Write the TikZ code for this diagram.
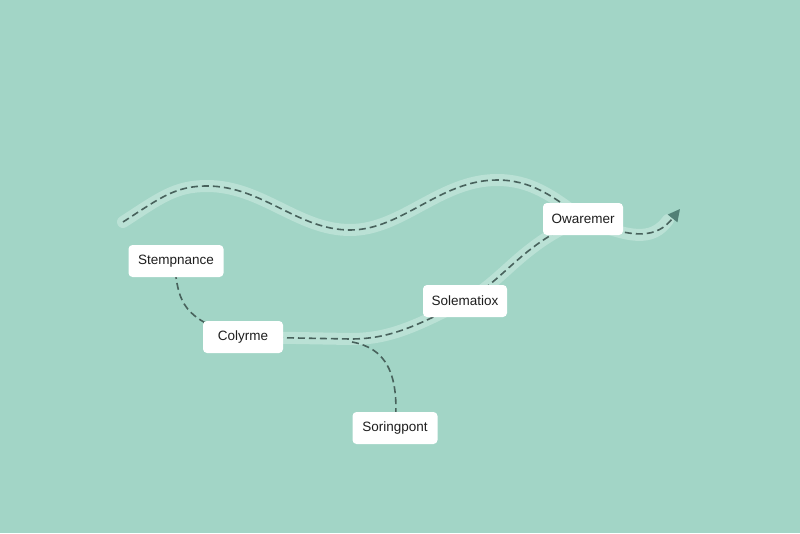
\documentclass[tikz,border=0pt]{standalone}
\usepackage{fontspec}
\setmainfont{Liberation Sans}
\usetikzlibrary{arrows.meta}
\definecolor{bgc}{RGB}{162,213,198}
\definecolor{bandc}{RGB}{186,225,213}
\definecolor{dashc}{RGB}{72,98,92}
\definecolor{arrc}{RGB}{82,128,118}
\definecolor{txtc}{RGB}{30,30,30}
\pgfdeclarelayer{bg}
\pgfdeclarelayer{back}
\pgfsetlayers{back,bg,main}
\begin{document}
\begin{tikzpicture}[x=1pt,y=-1pt,
  box/.style={draw=none,fill=white,rounded corners=4pt,minimum height=32pt,inner xsep=8pt,font=\fontsize{13.5}{15}\selectfont,text=txtc},
  band/.style={line width=12pt,draw=bandc,line cap=round},
  dline/.style={line width=1.6pt,draw=dashc,dash pattern=on 7pt off 4pt}]
\begin{pgfonlayer}{back}
\fill[bgc] (0,0) rectangle (800,533);
\end{pgfonlayer}
\useasboundingbox (0,0) rectangle (800,533);
\node[box,minimum width=95pt] (st) at (176,261) {Stempnance};
\node[box,minimum width=80pt] (co) at (243,337) {Colyrme};
\node[box,minimum width=85pt] (sp) at (395,428) {Soringpont};
\node[box,minimum width=84pt] (so) at (465,301) {Solematiox};
\node[box,minimum width=80pt] (ow) at (583,219) {Owaremer};
\coordinate (start) at (123,222);
\coordinate (tip) at (680,209);
\coordinate (bandend) at (668,220);
\coordinate (br) at (352,342);
\begin{pgfonlayer}{bg}
% bands
\draw[band] (start) .. controls (160,198) and (175,186) .. (207,186)
  .. controls (262,186) and (298,230) .. (350,230)
  .. controls (402,230) and (440,180) .. (497,180)
  .. controls (530,180) and (552,195) .. (ow.center);
\draw[band] (ow.center) .. controls (630,238) and (652,242) .. (bandend);
\draw[band] (co.center) -- (350,339) .. controls (385,339) and (410,330) .. (so.center);
\draw[band] (so.center) .. controls (505,280) and (520,245) .. (ow.center);
% dashed lines
\draw[dline] (start) .. controls (160,198) and (175,186) .. (207,186)
  .. controls (262,186) and (298,230) .. (350,230)
  .. controls (402,230) and (440,180) .. (497,180)
  .. controls (530,180) and (552,195) .. (ow.center);
\draw[dline,-{Triangle[length=12pt,width=12pt,color=arrc]}] (ow.center) .. controls (635,240) and (657,238) .. (tip);
\draw[dline] (co.center) -- (350,339) .. controls (385,339) and (410,330) .. (so.center);
\draw[dline] (so.center) .. controls (505,280) and (520,245) .. (ow.center);
\draw[dline] (st.center) -- (st.south) .. controls (180,305) and (188,322) .. (co.center);
\draw[dline] (br) .. controls (385,348) and (400,372) .. (sp.center);
\end{pgfonlayer}
\end{tikzpicture}
\end{document}
